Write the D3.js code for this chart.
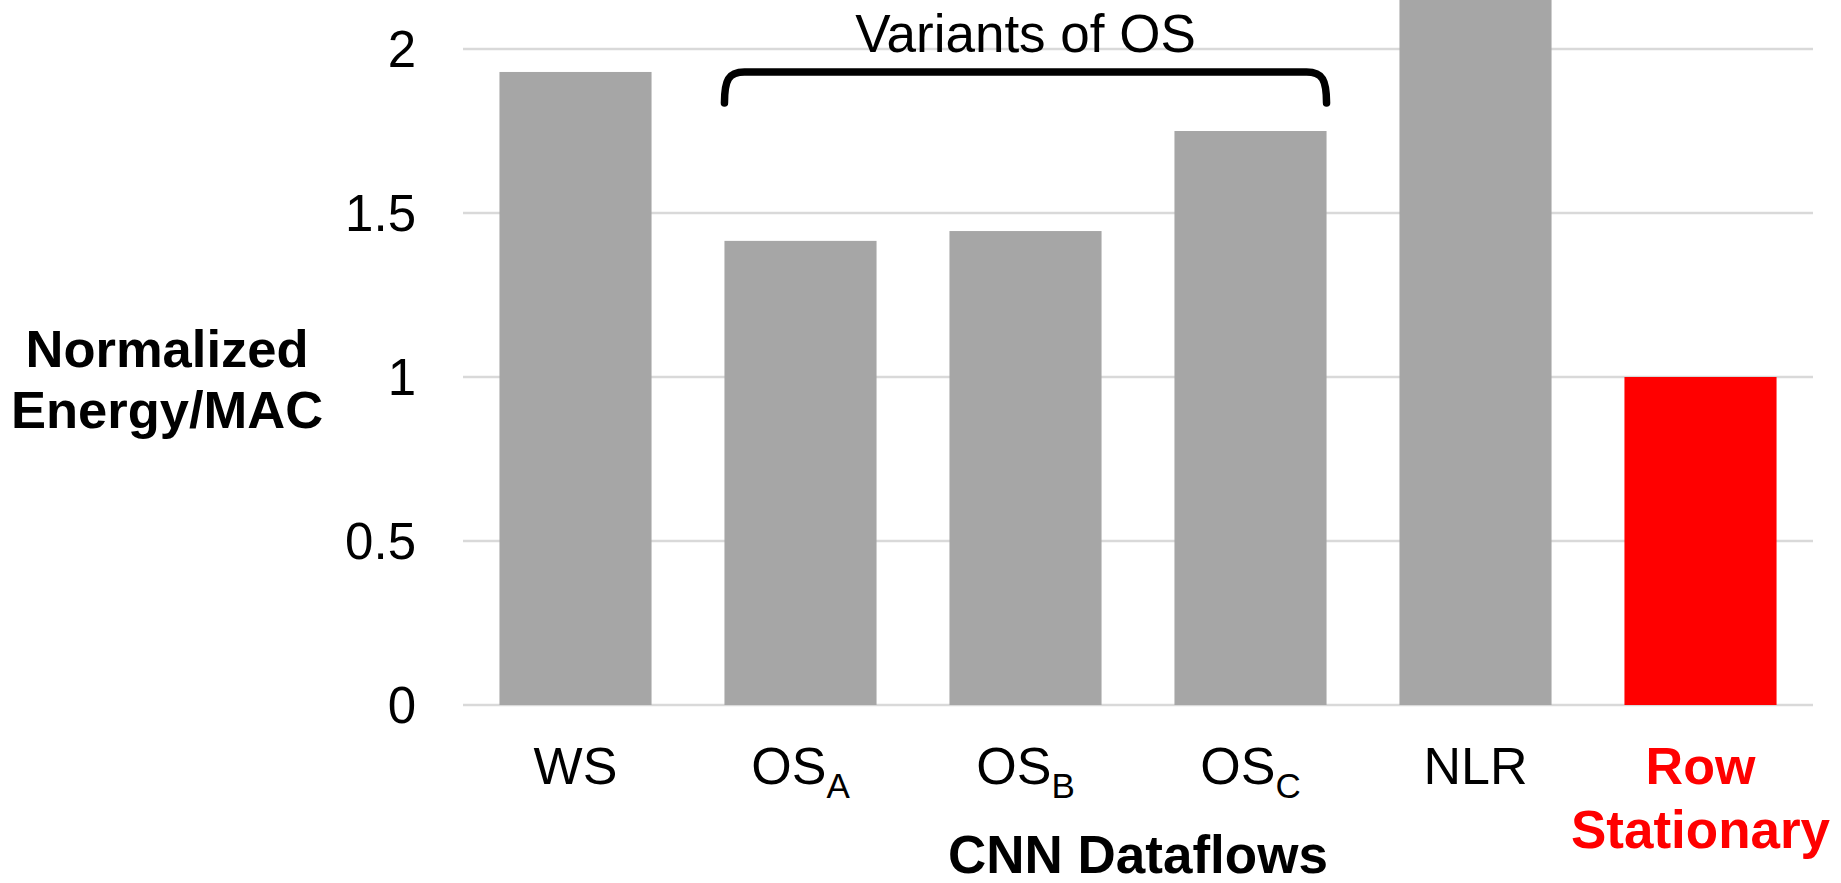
<!DOCTYPE html>
<html>
<head>
<meta charset="utf-8">
<script src="https://cdn.jsdelivr.net/npm/d3@7"></script>
<style>
  html, body { margin: 0; padding: 0; background: #fff; }
  svg { display: block; font-family: 'Liberation Sans', Arial, sans-serif; }
</style>
</head>
<body>
<svg id="chart" width="1841" height="883"></svg>
<script>
// categories: base label + optional subscript
const categories = ['WS', 'OS_A', 'OS_B', 'OS_C', 'NLR', 'RS']
const labelMain = ['WS', 'OS', 'OS', 'OS', 'NLR', 'Row']
const labelSub = ['', 'A', 'B', 'C', '', '']
// normalized energy per MAC (NLR runs off the top of the chart)
const energy = [1.93, 1.415, 1.445, 1.75, 2.3, 1.0]
const yTicks = [0, 0.5, 1, 1.5, 2]
const highlight = 'RS'
const bracketFrom = 'OS_A'
const bracketTo = 'OS_C'

const svg = d3.select('#chart')
const plotLeft = 463
const plotRight = 1813

const x = d3.scaleBand()
  .domain(categories)
  .range([plotLeft, plotRight])
  .paddingInner(0.324)
  .paddingOuter(0.162)

const y = d3.scaleLinear()
  .domain([0, 2])
  .range([705, 49])

// gridlines
svg.append('g')
  .selectAll('line')
  .data(yTicks)
  .join('line')
  .attr('x1', plotLeft)
  .attr('x2', plotRight)
  .attr('y1', (d) => y(d))
  .attr('y2', (d) => y(d))
  .style('stroke', '#d9d9d9')
  .style('stroke-width', 2.5)

// tick labels
svg.append('g')
  .selectAll('text')
  .data(yTicks)
  .join('text')
  .attr('x', 416)
  .attr('y', (d) => y(d))
  .attr('dy', '0.35em')
  .attr('text-anchor', 'end')
  .style('font-size', '51px')
  .style('fill', '#000')
  .text((d) => d)

// bars
svg.append('g')
  .selectAll('rect')
  .data(categories)
  .join('rect')
  .attr('x', (d) => x(d))
  .attr('width', x.bandwidth())
  .attr('y', (d, i) => y(energy[i]))
  .attr('height', (d, i) => y(0) - y(energy[i]))
  .style('fill', (d) => (d === highlight ? '#ff0000' : '#a6a6a6'))

// category labels
const labels = svg.append('g')
  .selectAll('text')
  .data(categories)
  .join('text')
  .attr('x', (d) => x(d) + x.bandwidth() / 2)
  .attr('y', 784)
  .attr('text-anchor', 'middle')
  .style('font-size', '52px')
  .style('font-weight', (d) => (d === highlight ? 'bold' : 'normal'))
  .style('fill', (d) => (d === highlight ? '#ff0000' : '#000'))

labels.append('tspan')
  .text((d, i) => labelMain[i])
labels.filter((d, i) => labelSub[i] !== '')
  .append('tspan')
  .attr('dy', 14)
  .style('font-size', '35px')
  .text((d) => labelSub[categories.indexOf(d)])

// second line for Row Stationary
svg.append('text')
  .attr('x', x(highlight) + x.bandwidth() / 2)
  .attr('y', 848)
  .attr('text-anchor', 'middle')
  .style('font-size', '53px')
  .style('font-weight', 'bold')
  .style('fill', '#ff0000')
  .text('Stationary')

// axis titles
svg.append('text')
  .attr('x', (plotLeft + plotRight) / 2)
  .attr('y', 873)
  .attr('text-anchor', 'middle')
  .style('font-size', '53px')
  .style('font-weight', 'bold')
  .text('CNN Dataflows')

const yTitle = svg.append('text')
  .attr('text-anchor', 'middle')
  .style('font-size', '52.5px')
  .style('font-weight', 'bold')
yTitle.append('tspan').attr('x', 167).attr('y', 367).text('Normalized')
yTitle.append('tspan').attr('x', 167).attr('y', 428).text('Energy/MAC')

// bracket over the OS variants
const bx0 = x(bracketFrom)
const bx1 = x(bracketTo) + x.bandwidth()
const bTop = 72
const bEnd = 103
const p = d3.path()
p.moveTo(bx0, bEnd)
p.bezierCurveTo(bx0, bTop + 8, bx0 + 4, bTop, bx0 + 20, bTop)
p.lineTo(bx1 - 20, bTop)
p.bezierCurveTo(bx1 - 4, bTop, bx1, bTop + 8, bx1, bEnd)
svg.append('path')
  .attr('d', p.toString())
  .style('fill', 'none')
  .style('stroke', '#000')
  .style('stroke-width', 7.5)
  .style('stroke-linecap', 'round')

svg.append('text')
  .attr('x', (bx0 + bx1) / 2)
  .attr('y', 52)
  .attr('text-anchor', 'middle')
  .style('font-size', '53px')
  .text('Variants of OS')
</script>
</body>
</html>
